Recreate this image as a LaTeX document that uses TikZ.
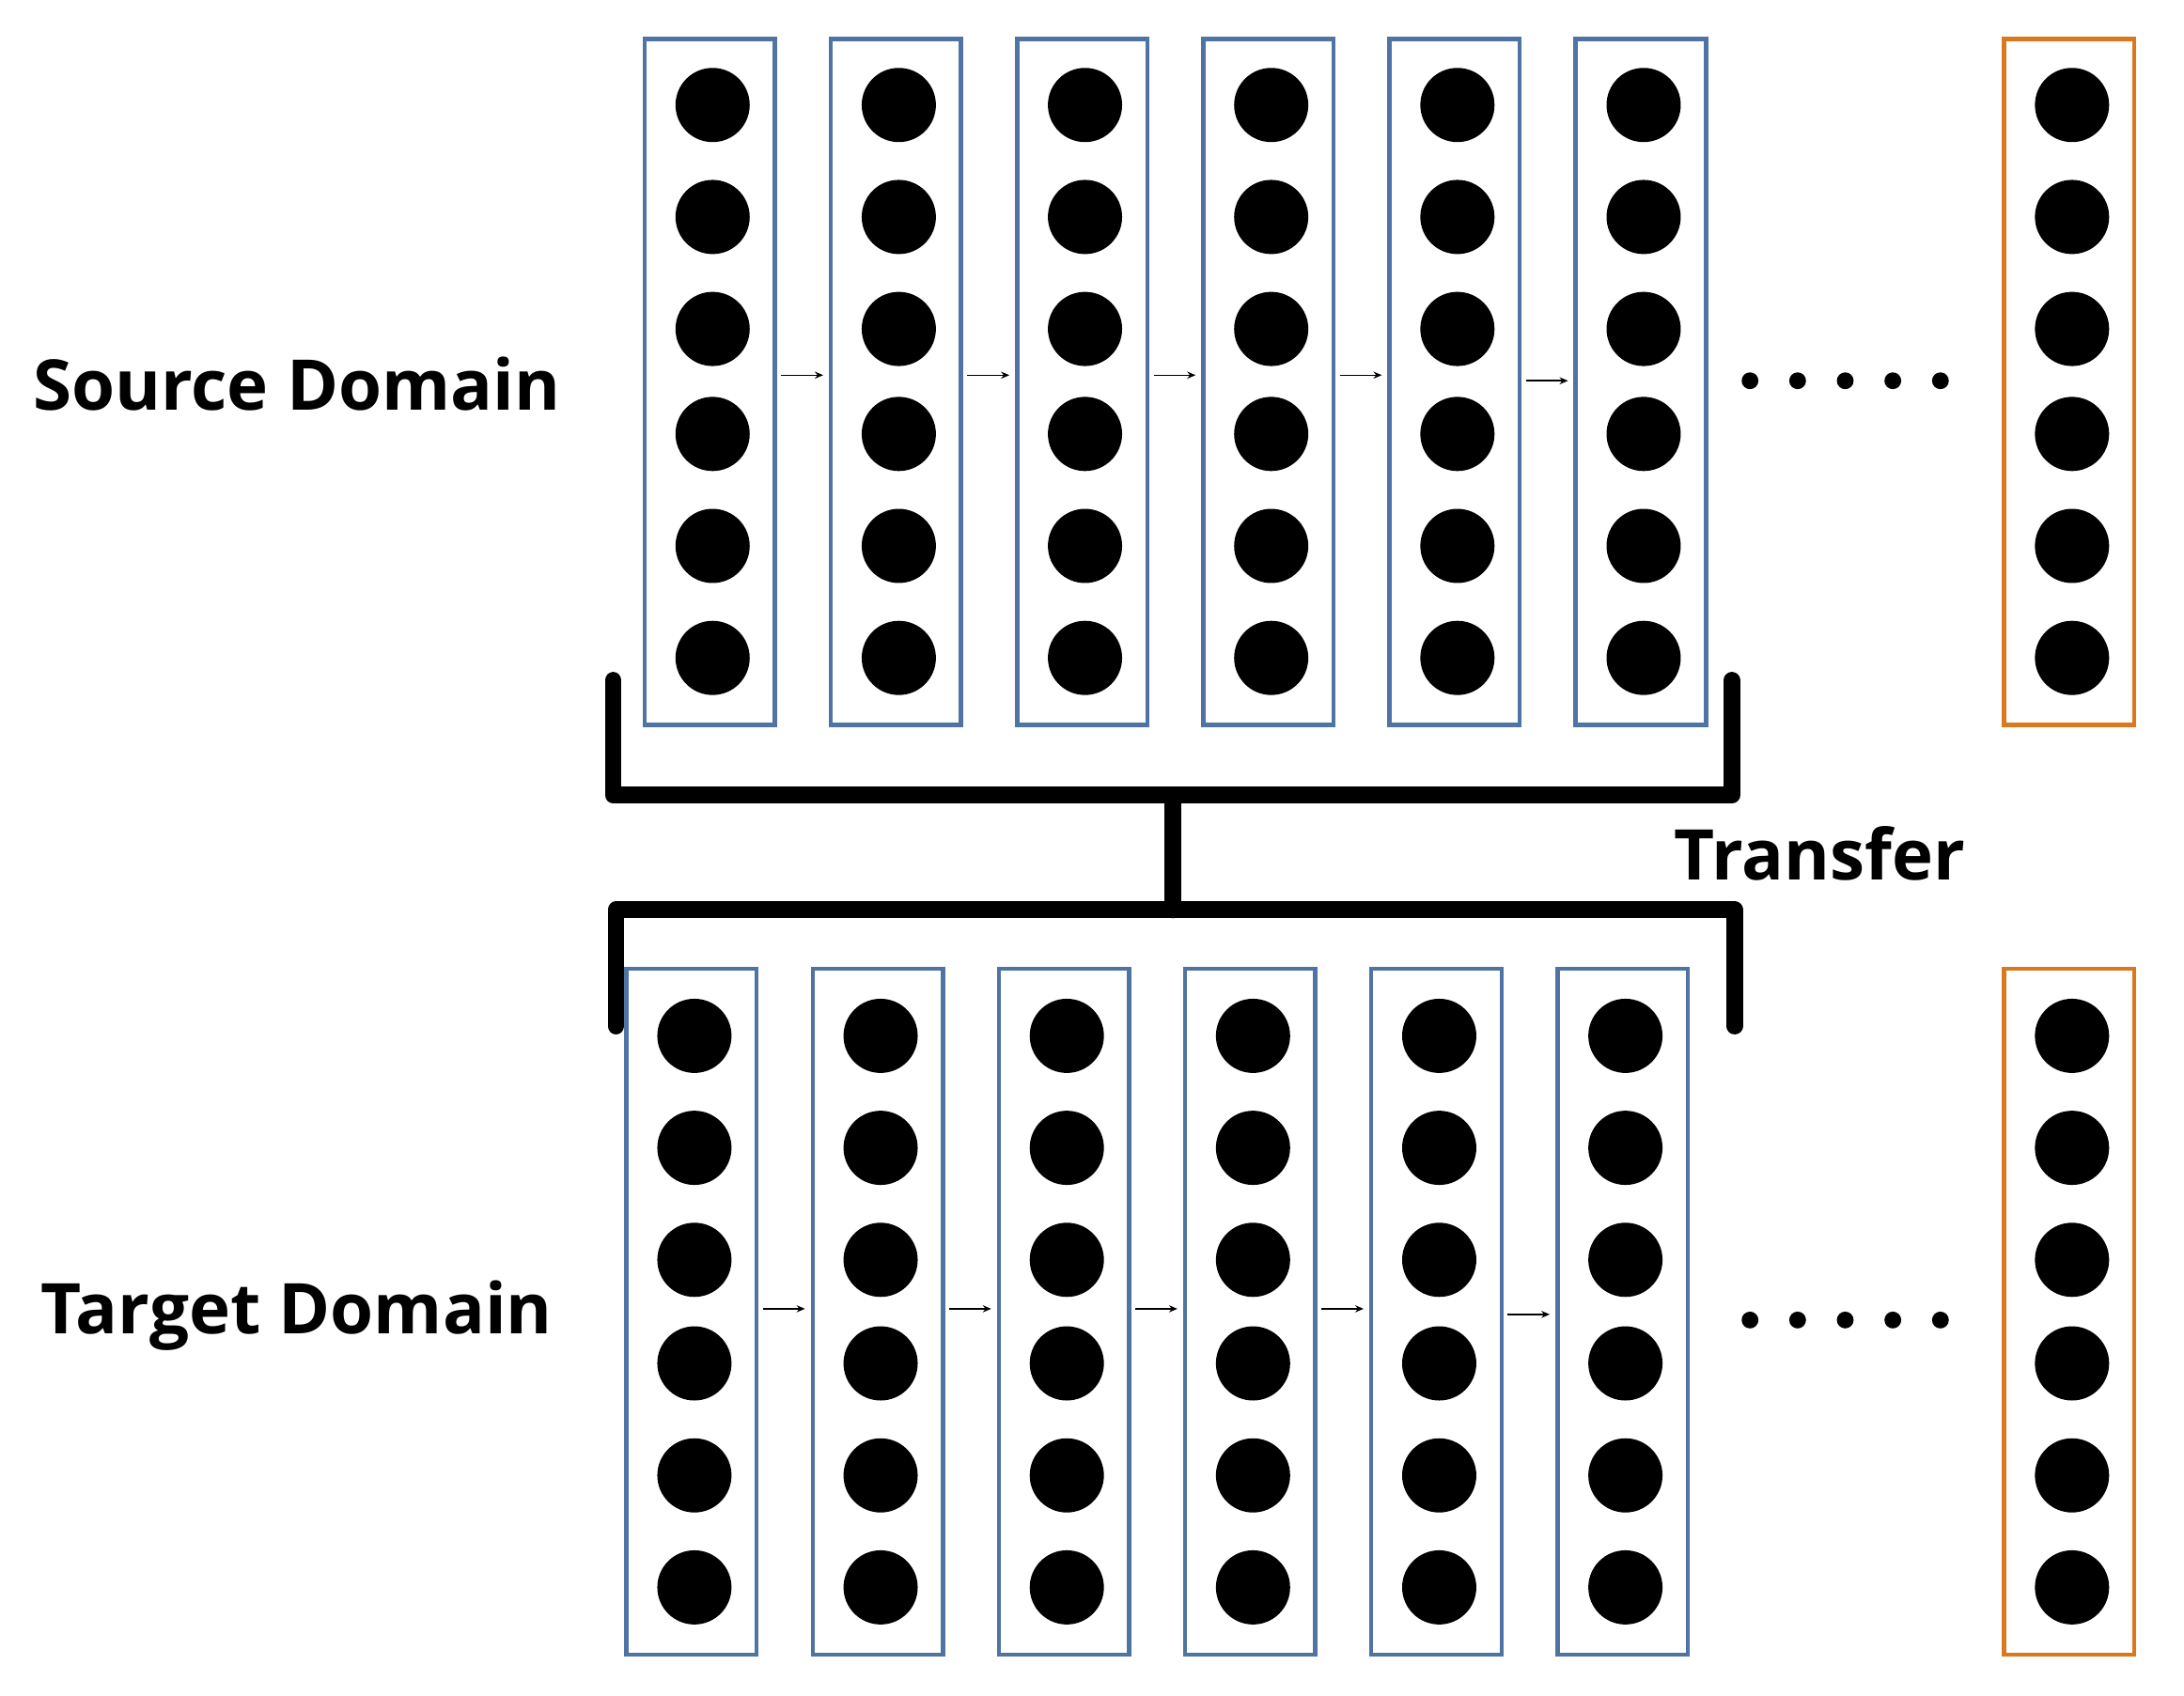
\documentclass[tikz,border=0pt]{standalone}
\usepackage{fontspec}
\setmainfont{Open Sans}
\usetikzlibrary{arrows.meta}
\definecolor{bbox}{HTML}{4F73A3}
\definecolor{obox}{HTML}{D9781C}
\begin{document}
\begin{tikzpicture}[x=1pt,y=-1pt,
  col/.style={draw=#1,line width=3pt,minimum width=93pt,minimum height=490pt,inner sep=0pt},
  neu/.style={circle,fill=black,minimum size=53pt,inner sep=0pt},
  dot/.style={circle,fill=black,minimum size=12pt,inner sep=0pt},
  arr/.style={-{Stealth[length=6pt,width=5pt]},line width=1pt},
  brk/.style={line width=12pt,line cap=round,line join=round},
  lbl/.style={font=\fontsize{50}{54}\selectfont\bfseries}]
\useasboundingbox (0,0) rectangle (1560,1211);
% top
\foreach \i/\x in {1/507,2/640,3/773,4/906,5/1039,6/1172}{
  \node[col=bbox] (t\i) at (\x,273) {};
  \foreach \j/\y in {1/75,2/155,3/235,4/310,5/390,6/470}
    \node[neu] (tn\i\j) at (\x+2,\y) {};
}
\node[col=obox] (t7) at (1478,273) {};
\foreach \j/\y in {1/75,2/155,3/235,4/310,5/390,6/470}
  \node[neu] (tn7\j) at (1480,\y) {};
\foreach \a/\b in {1/2,2/3,3/4,4/5}
  \draw[arr] ([xshift=3pt,yshift=5pt]t\a.east) -- ([xshift=-4pt,yshift=5pt]t\b.west);
\draw[arr] ([xshift=3pt,yshift=1pt]t5.east) -- ([xshift=-4pt,yshift=1pt]t6.west);
\foreach \k/\x in {1/1250,2/1284,3/1318,4/1352,5/1386} \node[dot] (td\k) at (\x,272) {};
% bottom
\foreach \i/\x in {1/494,2/627,3/760,4/893,5/1026,6/1159}{
  \node[col=bbox] (b\i) at (\x,937) {};
  \foreach \j/\y in {1/740,2/820,3/900,4/974,5/1054,6/1134}
    \node[neu] (bn\i\j) at (\x+2,\y) {};
}
\node[col=obox] (b7) at (1478,937) {};
\foreach \j/\y in {1/740,2/820,3/900,4/974,5/1054,6/1134}
  \node[neu] (bn7\j) at (1480,\y) {};
\foreach \a/\b in {1/2,2/3,3/4,4/5}
  \draw[arr] ([xshift=3pt,yshift=2pt]b\a.east) -- ([xshift=-4pt,yshift=2pt]b\b.west);
\draw[arr] ([xshift=3pt,yshift=-2pt]b5.east) -- ([xshift=-4pt,yshift=-2pt]b6.west);
\foreach \k/\x in {1/1250,2/1284,3/1318,4/1352,5/1386} \node[dot] (bd\k) at (\x,943) {};
% brackets
\coordinate (s1) at (438,486); \coordinate (s2) at (438,568);
\coordinate (s3) at (1237,568); \coordinate (s4) at (1237,486);
\coordinate (m1) at (838,568); \coordinate (m2) at (838,650);
\coordinate (u1) at (440,733); \coordinate (u2) at (440,650);
\coordinate (u3) at (1239,650); \coordinate (u4) at (1239,733);
\draw[brk] (s1) -- (s2) -- (s3) -- (s4);
\draw[brk] (m1) -- (m2);
\draw[brk] (u1) -- (u2) -- (u3) -- (u4);
% labels
\node[lbl] (src) at (212,274) {Source Domain};
\node[lbl] (tgt) at (212,940) {Target Domain};
\node[lbl] (tr) at (1300,610) {Transfer};
\end{tikzpicture}
\end{document}
